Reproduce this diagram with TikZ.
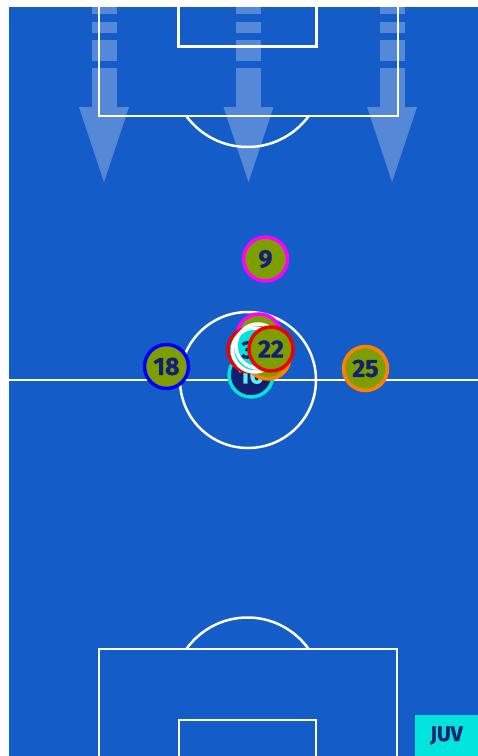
\documentclass[tikz,border=0pt]{standalone}
\usepackage{fontspec}
\setmainfont{Fira Sans}[BoldFeatures={FakeBold=0.8}]
\usepackage{xcolor}
\usepackage{tikz}
\usetikzlibrary{positioning}
\definecolor{pitchblue}{RGB}{20,92,200}
\definecolor{shirt}{RGB}{126,158,0}
\definecolor{numnavy}{RGB}{18,32,115}
\definecolor{ringcyan}{RGB}{0,228,220}
\definecolor{ringorange}{RGB}{255,128,0}
\definecolor{ringred}{RGB}{240,0,0}
\definecolor{ringblue}{RGB}{0,0,250}
\definecolor{ringmagenta}{RGB}{255,0,255}
\tikzstyle{pitchline} = [white, line width=2.5pt]
\tikzstyle{runarrow}  = [fill=white, fill opacity=0.28]
\tikzstyle{player}    = [circle, line width=3.5pt, minimum size=44pt, inner sep=0pt,
                         fill=shirt, text=numnavy, font=\fontsize{25}{25}\selectfont\bfseries]

\begin{document}
\begin{tikzpicture}[x=1pt, y=-1pt]
    % page and pitch
    \fill[white] (0,0) rectangle (478,756);
    \fill[pitchblue] (9,7) rectangle (478,756);
    \useasboundingbox (0,0) rectangle (478,756);

    % markings
    \draw[pitchline] (9,380) -- (478,380);
    \draw[pitchline] (248,380) circle[radius=68];
    \draw[pitchline] (99,7) -- (99,116) -- (398,116) -- (398,7);
    \draw[pitchline] (178.5,7) -- (178.5,46.5) -- (316.5,46.5) -- (316.5,7);
    \draw[pitchline] (99,756) -- (99,649) -- (397,649) -- (397,756);
    \draw[pitchline] (179,756) -- (179,720) -- (316,720) -- (316,756);
    \begin{scope}
        \clip (9,117) rectangle (478,300);
        \draw[pitchline] (247.5,71) circle[radius=76];
    \end{scope}
    \begin{scope}
        \clip (9,450) rectangle (478,648);
        \draw[pitchline] (247.5,692.5) circle[radius=75];
    \end{scope}

    % attacking direction
    \foreach \cx in {104, 248.5, 392} {
        \foreach \ya/\yb in {7/14, 22/33, 40/61, 68/107}
            \fill[runarrow] (\cx-12.5,\ya) rectangle (\cx+12.5,\yb);
        \fill[runarrow] (\cx-25,107) -- (\cx+25,107) -- (\cx,182) -- cycle;
    }

    % players
    \node (p9)  at (265.5,259)   [player, draw=ringmagenta] {9};
    \node (p18) at (166.5,366.5) [player, draw=ringblue]    {18};
    \node (p25) at (365.5,368.5) [player, draw=ringorange]  {25};

    \node (pm)  at (259,336)     [player, draw=ringmagenta] {};
    \node (p10) at (251,375)     [player, draw=ringcyan, fill=numnavy, text=ringcyan!60!white] {10};
    \node (po)  at (268,357)     [player, draw=ringorange]  {};
    \node (pr)  at (250,350)     [player, draw=ringred, fill=ringcyan] {};
    \node (p3)  at (254.5,350)   [player, draw=white, fill=ringcyan] {3\phantom{3}};
    \node (pw)  at (258,346)     [player, draw=white, fill=none] {};
    \node (p22) at (271,349)     [player, draw=ringred]     {22};

    % team tag
    \node (team) at (446.5,735.5) [fill=ringcyan, minimum width=63pt, minimum height=41pt,
          inner sep=0pt, text=numnavy, font=\fontsize{21}{21}\selectfont\bfseries] {JUV};
\end{tikzpicture}
\end{document}
